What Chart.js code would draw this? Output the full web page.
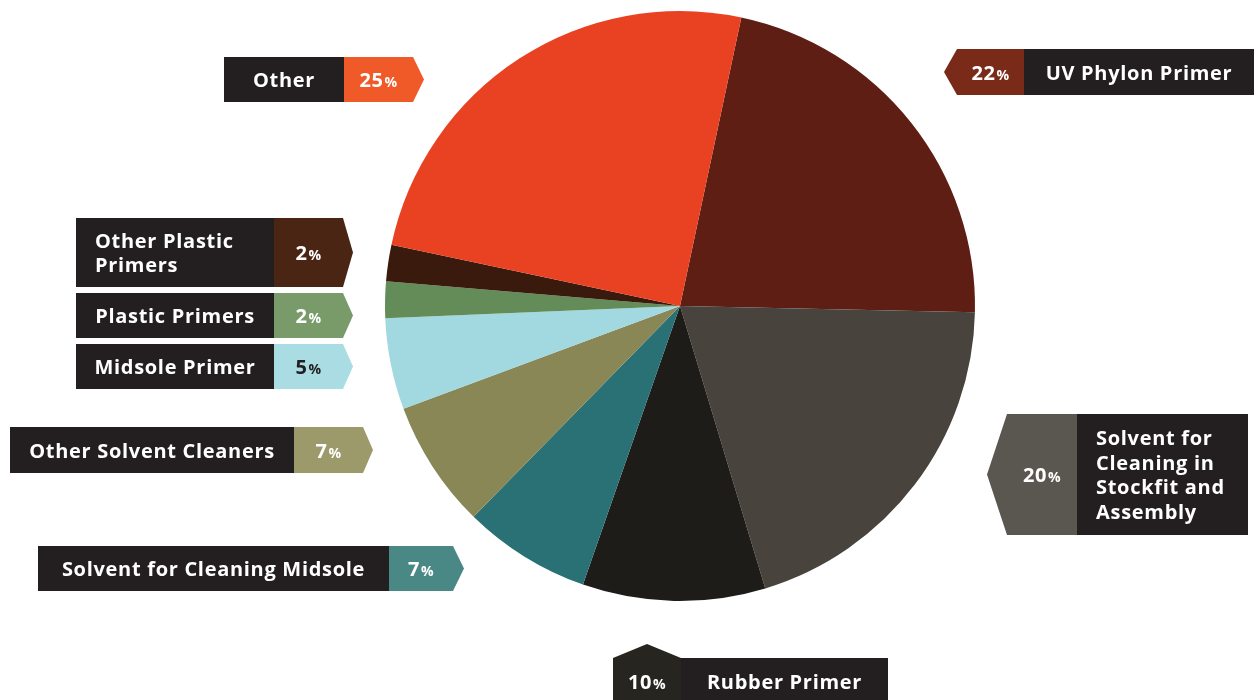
<!DOCTYPE html>
<html>
<head>
<meta charset="utf-8">
<script src="https://cdn.jsdelivr.net/npm/chart.js@4"></script>
<style>
  html, body { margin: 0; padding: 0; background: #fff; }
  #wrap { width: 1254px; height: 700px; position: relative; }
</style>
</head>
<body>
<div id="wrap"><canvas id="mycanvas" width="1254" height="700"></canvas></div>
<script>
// data
var categories = ['UV Phylon Primer', 'Solvent for Cleaning in Stockfit and Assembly', 'Rubber Primer',
  'Solvent for Cleaning Midsole', 'Other Solvent Cleaners', 'Midsole Primer', 'Plastic Primers',
  'Other Plastic Primers', 'Other'];
var shares = [22, 20, 10, 7, 7, 5, 2, 2, 25];
var labelLines = [
  ['UV Phylon Primer'],
  ['Solvent for', 'Cleaning in', 'Stockfit and', 'Assembly'],
  ['Rubber Primer'],
  ['Solvent for Cleaning Midsole'],
  ['Other Solvent Cleaners'],
  ['Midsole Primer'],
  ['Plastic Primers'],
  ['Other Plastic', 'Primers'],
  ['Other']
];
var sliceColors = ['#5f1e14', '#48433c', '#1e1c19', '#2a7175', '#8a8756', '#a2d8e0', '#648c58', '#3b1a0e', '#e84222'];
var tagColors = ['#7a2a19', '#5a5750', '#27251f', '#4a8886', '#9c9a6a', '#a9dce3', '#789b69', '#4b2514', '#f05a28'];

// callout layout (one per slice, same order)
var callouts = [
  { dir: 'left', tag: [957, 1024], box: [1024, 1254], y: [49, 95], tip: 944, align: 'center' },
  { dir: 'left', tag: [1007, 1077], box: [1077, 1248], y: [414, 535], tip: 987, align: 'left' },
  { dir: 'up', tag: [613, 681], box: [681, 888], y: [658, 705], tip: 644, align: 'center' },
  { dir: 'right', tag: [389, 453], box: [38, 389], y: [546, 591], tip: 464, align: 'center' },
  { dir: 'right', tag: [294, 363], box: [10, 294], y: [427, 473], tip: 373, align: 'center' },
  { dir: 'right', tag: [274, 343], box: [76, 274], y: [344, 389], tip: 353, align: 'center' },
  { dir: 'right', tag: [274, 343], box: [76, 274], y: [293, 338], tip: 353, align: 'center' },
  { dir: 'right', tag: [274, 343], box: [76, 274], y: [218, 287], tip: 353, align: 'left' },
  { dir: 'right', tag: [344, 413], box: [224, 344], y: [57, 102], tip: 424, align: 'center' }
];

var FONT = '"Open Sans", "Liberation Sans", sans-serif';
var BOX_DARK = '#231f20';

var calloutPlugin = {
  id: 'callouts',
  afterDraw: function(chart) {
    var ctx = chart.ctx;
    ctx.save();
    callouts.forEach(function(c, i) {
      var y0 = c.y[0], y1 = c.y[1], ym = (y0 + y1) / 2;
      // dark label box
      ctx.fillStyle = BOX_DARK;
      ctx.fillRect(c.box[0], y0, c.box[1] - c.box[0], y1 - y0);
      // coloured tag with arrow
      ctx.fillStyle = tagColors[i];
      ctx.beginPath();
      if (c.dir === 'right') {
        ctx.moveTo(c.tag[0], y0);
        ctx.lineTo(c.tag[1], y0);
        ctx.lineTo(c.tip, ym);
        ctx.lineTo(c.tag[1], y1);
        ctx.lineTo(c.tag[0], y1);
      } else if (c.dir === 'left') {
        ctx.moveTo(c.tag[1], y0);
        ctx.lineTo(c.tag[0], y0);
        ctx.lineTo(c.tip, ym);
        ctx.lineTo(c.tag[0], y1);
        ctx.lineTo(c.tag[1], y1);
      } else {
        ctx.moveTo(c.tag[0], y1);
        ctx.lineTo(c.tag[0], y0);
        ctx.lineTo((c.tag[0] + c.tag[1]) / 2, c.tip);
        ctx.lineTo(c.tag[1], y0);
        ctx.lineTo(c.tag[1], y1);
      }
      ctx.closePath();
      ctx.fill();

      // label text
      var lines = labelLines[i];
      var lh = 24.5;
      var ty = ((c.dir === 'up') ? 681 : ym) + 2;
      ctx.fillStyle = '#ffffff';
      ctx.font = 'bold 20px ' + FONT;
      ctx.letterSpacing = '0.7px';
      ctx.textBaseline = 'middle';
      var startY = ty - (lines.length - 1) * lh / 2;
      lines.forEach(function(line, k) {
        if (c.align === 'left') {
          ctx.textAlign = 'left';
          ctx.fillText(line, c.box[0] + 19, startY + k * lh);
        } else {
          ctx.textAlign = 'center';
          ctx.fillText(line, (c.box[0] + c.box[1]) / 2, startY + k * lh);
        }
      });

      // percent text
      ctx.letterSpacing = '0.5px';
      var num = String(shares[i]);
      ctx.font = 'bold 20px ' + FONT;
      var wNum = ctx.measureText(num).width;
      ctx.font = 'bold 14px ' + FONT;
      var wPct = ctx.measureText('%').width;
      var cx = (c.tag[0] + c.tag[1]) / 2;
      var sx = cx - (wNum + wPct + 1) / 2;
      ctx.fillStyle = (i === 5) ? BOX_DARK : '#ffffff';
      ctx.textAlign = 'left';
      ctx.font = 'bold 20px ' + FONT;
      ctx.fillText(num, sx, ty);
      ctx.font = 'bold 14px ' + FONT;
      ctx.fillText('%', sx + wNum + 1, ty + 2);
    });
    ctx.restore();
  }
};

var ctx = document.getElementById('mycanvas');
var myChart = new Chart(ctx, {
  type: 'pie',
  data: {
    labels: categories,
    datasets: [{
      data: shares,
      backgroundColor: sliceColors,
      borderWidth: 0
    }]
  },
  options: {
    responsive: false,
    animation: false,
    rotation: 12,
    layout: { padding: { left: 385, right: 279, top: 11, bottom: 99 } },
    plugins: {
      legend: { display: false },
      tooltip: { enabled: false }
    }
  },
  plugins: [calloutPlugin]
});
</script>
</body>
</html>
